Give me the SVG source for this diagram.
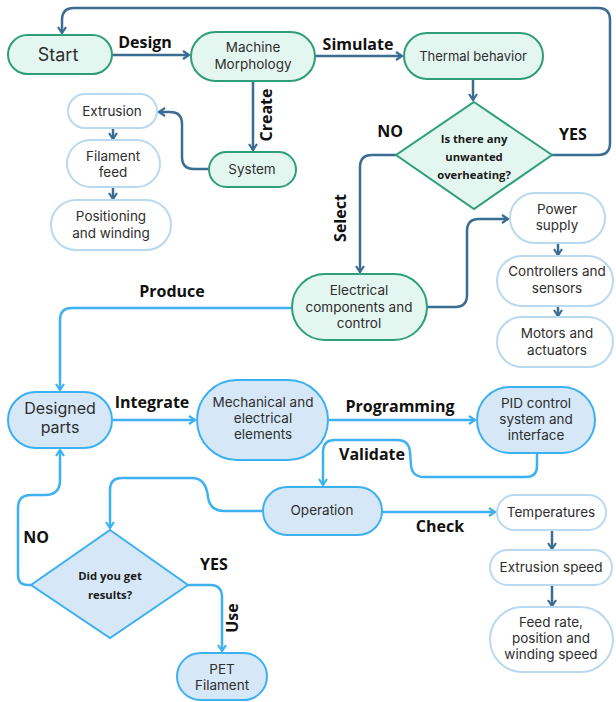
<svg xmlns="http://www.w3.org/2000/svg" width="616" height="702" viewBox="0 0 616 702">
<style>
.g{fill:#e4f6f0;stroke:#2e9e7a;stroke-width:2}
.b{fill:#d6e8f7;stroke:#3db0f0;stroke-width:2}
.w{fill:#ffffff;stroke:#b9d9f1;stroke-width:2}
.t{font-family:Inter,"Liberation Sans",sans-serif;font-size:13.5px;fill:#2e2e2e;text-anchor:middle}
.q{font-family:"Open Sans","Liberation Sans",sans-serif;font-size:11.3px;font-weight:bold;fill:#1a1a1a;text-anchor:middle}
.l{font-family:"Open Sans","Liberation Sans",sans-serif;font-size:16px;font-weight:bold;fill:#111;text-anchor:middle}
.cd{fill:none;stroke:#3b6d93;stroke-width:2.5}
.cl{fill:none;stroke:#3fb1f1;stroke-width:2.5}
</style>
<defs>
<marker id="ad" markerWidth="10" markerHeight="10" refX="8" refY="5" orient="auto" markerUnits="userSpaceOnUse" viewBox="0 0 10 10"><path d="M2,1 L8,5 L2,9" fill="none" stroke="#3b6d93" stroke-width="2.2"/></marker>
<marker id="al" markerWidth="10" markerHeight="10" refX="8" refY="5" orient="auto" markerUnits="userSpaceOnUse" viewBox="0 0 10 10"><path d="M2,1 L8,5 L2,9" fill="none" stroke="#3fb1f1" stroke-width="2.2"/></marker>
</defs>

<g id="connectors">
<path class="cd" d="M112,55 H189" marker-end="url(#ad)"/>
<path class="cd" d="M315,56 H402" marker-end="url(#ad)"/>
<path class="cd" d="M473,79 V100" marker-end="url(#ad)"/>
<path class="cd" d="M552,155 H598 Q610,155 610,143 V20 Q610,8 598,8 H74 Q62,8 62,20 V33" marker-end="url(#ad)"/>
<path class="cd" d="M253,81 V150" marker-end="url(#ad)"/>
<path class="cd" d="M209,169 H194 Q182,169 182,157 V124 Q182,112 170,112 H159" marker-end="url(#ad)"/>
<path class="cd" d="M113,128 V139" marker-end="url(#ad)"/>
<path class="cd" d="M113,187 V199" marker-end="url(#ad)"/>
<path class="cd" d="M396,155 H372 Q360,155 360,167 V272" marker-end="url(#ad)"/>
<path class="cd" d="M427,307 H455 Q467,307 467,295 V231 Q467,219 479,219 H508" marker-end="url(#ad)"/>
<path class="cd" d="M558,243 V255" marker-end="url(#ad)"/>
<path class="cd" d="M558,306 V316" marker-end="url(#ad)"/>
<path class="cl" d="M292,308 H72 Q60,308 60,320 V390" marker-end="url(#al)"/>
<path class="cl" d="M112,420 H195" marker-end="url(#al)"/>
<path class="cl" d="M328,420 H475" marker-end="url(#al)"/>
<path class="cl" d="M537,453 V466 Q537,477 526,477 H424 Q412,477 411,465 L410,452 Q409,440 397,440 H335 Q323,440 323,452 V485" marker-end="url(#al)"/>
<path class="cl" d="M382,512 H495" marker-end="url(#al)"/>
<path class="cd" d="M552,530 V549" marker-end="url(#ad)"/>
<path class="cd" d="M552,585 V606" marker-end="url(#ad)"/>
<path class="cl" d="M263,511 H224 Q210,511 208,497 Q206,478 192,478 H122 Q110,478 110,490 V528" marker-end="url(#al)"/>
<path class="cl" d="M31,585 H28 Q18,585 18,575 V508 Q18,495 31,495 H45 Q60,495 60,480 V450" marker-end="url(#al)"/>
<path class="cl" d="M188,585 H210 Q222,585 222,597 V651" marker-end="url(#al)"/>
</g>

<g id="labels">
<text class="l" x="145" y="48">Design</text>
<text class="l" x="358" y="50">Simulate</text>
<text class="l" x="390" y="137">NO</text>
<text class="l" x="573" y="140">YES</text>
<text class="l" transform="translate(272,115) rotate(-90)">Create</text>
<text class="l" transform="translate(346,218) rotate(-90)">Select</text>
<text class="l" x="172" y="297">Produce</text>
<text class="l" x="152" y="408">Integrate</text>
<text class="l" x="400" y="412">Programming</text>
<text class="l" x="372" y="460">Validate</text>
<text class="l" x="440" y="532">Check</text>
<text class="l" x="36" y="543">NO</text>
<text class="l" x="214" y="570">YES</text>
<text class="l" transform="translate(238,618) rotate(-90)">Use</text>
</g>

<g id="start"><rect class="g" x="8" y="35" width="104" height="39" rx="19.5"/><text class="t" x="58" y="61" style="font-size:18px">Start</text></g>
<g id="machine"><rect class="g" x="191" y="32" width="124" height="49" rx="24.5"/><text class="t" x="253" y="52">Machine</text><text class="t" x="253" y="69">Morphology</text></g>
<g id="thermal"><rect class="g" x="404" y="33" width="139" height="46" rx="23"/><text class="t" x="473" y="61" style="font-size:13px">Thermal behavior</text></g>
<g id="overheat"><polygon class="g" points="474,102 552,155 474,209 396,155"/><text class="q" x="474" y="143">Is there any</text><text class="q" x="474" y="161">unwanted</text><text class="q" x="474" y="179">overheating?</text></g>
<g id="system"><rect class="g" x="209" y="152" width="87" height="35" rx="17.5"/><text class="t" x="252" y="174">System</text></g>
<g id="extrusion"><rect class="w" x="68" y="94" width="89" height="34" rx="17"/><text class="t" x="112" y="116">Extrusion</text></g>
<g id="filament"><rect class="w" x="67" y="140" width="93" height="47" rx="23.5"/><text class="t" x="113" y="161">Filament</text><text class="t" x="113" y="177">feed</text></g>
<g id="positioning"><rect class="w" x="51" y="200" width="120" height="50" rx="25"/><text class="t" x="111" y="221">Positioning</text><text class="t" x="111" y="238">and winding</text></g>
<g id="electrical"><rect class="g" x="292" y="274" width="135" height="66" rx="33"/><text class="t" x="359" y="295">Electrical</text><text class="t" x="359" y="312">components and</text><text class="t" x="359" y="328">control</text></g>
<g id="power"><rect class="w" x="510" y="193" width="95" height="50" rx="25"/><text class="t" x="557" y="214">Power</text><text class="t" x="557" y="230">supply</text></g>
<g id="controllers"><rect class="w" x="497" y="256" width="116" height="50" rx="25"/><text class="t" x="557" y="276">Controllers and</text><text class="t" x="557" y="293">sensors</text></g>
<g id="motors"><rect class="w" x="497" y="317" width="116" height="50" rx="25"/><text class="t" x="557" y="338">Motors and</text><text class="t" x="557" y="355">actuators</text></g>
<g id="designed"><rect class="b" x="8" y="392" width="104" height="56" rx="28"/><text class="t" x="60" y="414" style="font-size:16px">Designed</text><text class="t" x="60" y="433" style="font-size:16px">parts</text></g>
<g id="mechanical"><rect class="b" x="197" y="380" width="131" height="80" rx="40"/><text class="t" x="263" y="407">Mechanical and</text><text class="t" x="263" y="423">electrical</text><text class="t" x="263" y="439">elements</text></g>
<g id="pid"><rect class="b" x="477" y="387" width="118" height="66" rx="33"/><text class="t" x="536" y="408">PID control</text><text class="t" x="536" y="424">system and</text><text class="t" x="536" y="440">interface</text></g>
<g id="operation"><rect class="b" x="263" y="487" width="119" height="48" rx="24"/><text class="t" x="322" y="515">Operation</text></g>
<g id="temperatures"><rect class="w" x="497" y="495" width="109" height="35" rx="17.5"/><text class="t" x="551" y="517">Temperatures</text></g>
<g id="extrusionspeed"><rect class="w" x="490" y="550" width="122" height="35" rx="17.5"/><text class="t" x="551" y="572">Extrusion speed</text></g>
<g id="feedrate"><rect class="w" x="490" y="607" width="123" height="65" rx="32.5"/><text class="t" x="551" y="627">Feed rate,</text><text class="t" x="551" y="643">position and</text><text class="t" x="551" y="659">winding speed</text></g>
<g id="results"><polygon class="b" points="110,530 188,585 110,638 31,585"/><text class="q" x="110" y="580">Did you get</text><text class="q" x="110" y="599">results?</text></g>
<g id="pet"><rect class="b" x="177" y="653" width="90" height="47" rx="23.5"/><text class="t" x="222" y="674">PET</text><text class="t" x="222" y="690">Filament</text></g>
</svg>
